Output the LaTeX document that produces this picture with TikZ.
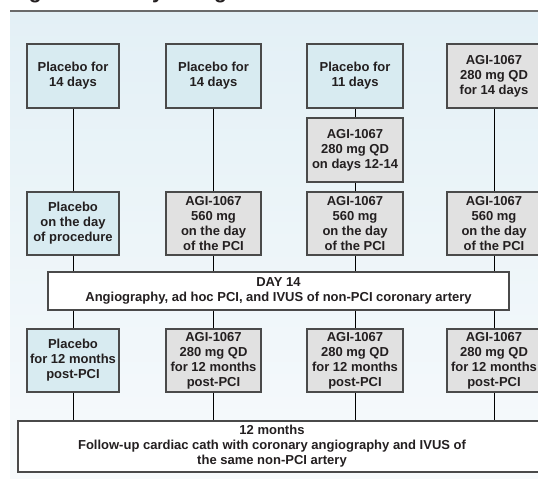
\documentclass[tikz,border=0pt]{standalone}
\usepackage{fontspec}
\setmainfont{Liberation Sans}
\definecolor{bgtop}{HTML}{E3F0F6}
\definecolor{bgbot}{HTML}{F7FAFC}
\definecolor{pbo}{HTML}{D8EBF1}
\definecolor{agi}{HTML}{E1E1E1}
\definecolor{edge}{HTML}{4A4A4A}
\definecolor{txt}{HTML}{231F20}
\definecolor{rulec}{HTML}{6A6A6A}
\begin{document}
\begin{tikzpicture}[x=0.75pt,y=-0.75pt,
  box/.style={draw=edge, line width=0.8pt, inner sep=0pt, align=center, text=txt,
    font=\fontsize{9.75pt}{11.25pt}\selectfont\bfseries},
  pbox/.style={box, fill=pbo},
  abox/.style={box, fill=agi},
  wbox/.style={box, fill=white},
  tall/.style={minimum height=48pt},
  mid/.style={minimum height=47.25pt},
  c1/.style={minimum width=69pt},
  c2/.style={minimum width=71.25pt},
  c3/.style={minimum width=72pt},
  c4/.style={minimum width=70.5pt},
  conn/.style={draw=black, line width=0.75pt}]
\useasboundingbox (0,0) rectangle (538,478);
\clip (0,0) rectangle (538,478);
\shade[top color=bgtop, bottom color=bgbot] (10,12) rectangle (538,478);
\draw[rulec, line width=1.5pt] (10,11) -- (538,11);
\node[anchor=base west, inner sep=0pt, text=txt,
  font=\fontsize{15.75pt}{18pt}\selectfont\bfseries] (title) at (10,-1.5) {Figure 1. Study Design};
% row 1
\node[pbox, c1, tall] (a1) at (73,76) {Placebo for\\14 days};
\node[pbox, c2, tall] (a2) at (213.5,76) {Placebo for\\14 days};
\node[pbox, c3, tall] (a3) at (355,76) {Placebo for\\11 days};
\node[abox, c4, tall] (a4) at (494,76) {AGI-1067\\280 mg QD\\for 14 days};
% extra
\node[abox, c3, tall] (x3) at (355,150) {AGI-1067\\280 mg QD\\on days 12-14};
% row 2
\node[pbox, c1, mid] (b1) at (73,223.5) {Placebo\\on the day\\of procedure};
\node[abox, c2, mid] (b2) at (213.5,223.5) {AGI-1067\\560 mg\\on the day\\of the PCI};
\node[abox, c3, mid] (b3) at (355,223.5) {AGI-1067\\560 mg\\on the day\\of the PCI};
\node[abox, c4, mid] (b4) at (494,223.5) {AGI-1067\\560 mg\\on the day\\of the PCI};
% day 14
\node[wbox, minimum width=345.75pt, minimum height=28.5pt] (day) at (278.5,291)
  {DAY 14\\Angiography, ad hoc PCI, and IVUS of non-PCI coronary artery};
% row 3
\node[pbox, c1, mid] (c1n) at (73,360.5) {Placebo\\for 12 months\\post-PCI};
\node[abox, c2, mid] (c2n) at (213.5,360.5) {AGI-1067\\280 mg QD\\for 12 months\\post-PCI};
\node[abox, c3, mid] (c3n) at (355,360.5) {AGI-1067\\280 mg QD\\for 12 months\\post-PCI};
\node[abox, c4, mid] (c4n) at (494,360.5) {AGI-1067\\280 mg QD\\for 12 months\\post-PCI};
% follow-up
\node[wbox, minimum width=406.5pt, minimum height=38.25pt] (fu) at (289,446.5) {};
\node[inner sep=0pt, align=center, text=txt,
  font=\fontsize{9.75pt}{11.25pt}\selectfont\bfseries] (futext) at (272,446.5)
  {12 months\\Follow-up cardiac cath with coronary angiography and IVUS of\\the same non-PCI artery};
% connectors
\draw[conn] (a1) -- (b1);
\draw[conn] (a2) -- (b2);
\draw[conn] (a3) -- (x3);
\draw[conn] (x3) -- (b3);
\draw[conn] (a4) -- (b4);
\foreach \n/\m in {b1/c1n, b2/c2n, b3/c3n, b4/c4n}{
  \draw[conn] (\n.south) -- (\n.south |- day.north);
  \draw[conn] (day.south -| \m.north) -- (\m.north);
  \draw[conn] (\m.south) -- (\m.south |- fu.north);
}
\end{tikzpicture}
\end{document}
